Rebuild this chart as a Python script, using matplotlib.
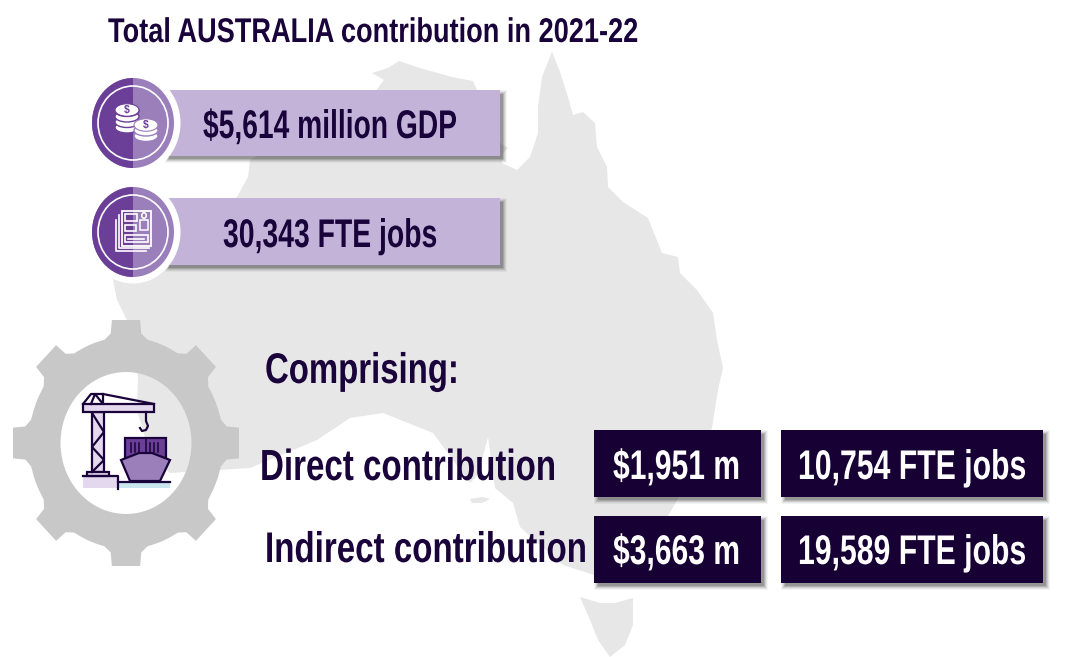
import numpy as np
import matplotlib
matplotlib.use("Agg")
import matplotlib.pyplot as plt
from matplotlib.patches import Rectangle, Ellipse, Polygon, PathPatch
from matplotlib.path import Path
from matplotlib.font_manager import FontProperties
from matplotlib.transforms import Affine2D
from matplotlib.patheffects import AbstractPathEffect

TITLE = "Total AUSTRALIA contribution in 2021-22"
TOTALS = ["$5,614 million GDP", "30,343 FTE jobs"]
HEADING = "Comprising:"
ROW_LABELS = ["Direct contribution", "Indirect contribution"]
GDP_PARTS = ["$1,951 m", "$3,663 m"]
JOB_PARTS = ["10,754 FTE jobs", "19,589 FTE jobs"]

DARK = "#19033A"
NAVY = "#170033"
LILAC = "#C3B3D9"
PURPLE = "#6B3F98"
PURPLE2 = "#9B7FBB"
MAP = "#E7E7E7"
GEAR = "#C8C8C8"

MAINLAND = [(552,52),(560,72),(568,97),(573,115),(583,112),(595,123),(597,147),(607,167),(608,187),
    (623,202),(648,218),(662,253),(678,257),(680,273),(697,290),(713,313),(717,340),(723,368),(718,390),
    (712,428),(700,460),(680,495),(640,565),(594,575),(563,565),(520,527),(513,503),(495,488),(488,437),
    (478,475),(470,483),(433,433),(383,413),(350,418),(317,440),(250,468),(217,470),(170,473),(150,455),
    (137,410),(138,377),(127,320),(117,300),(113,280),(130,255),(190,230),(237,197),(248,177),(250,160),
    (300,130),(340,100),(375,92),(384,80),(372,73),(388,68),(399,61),(420,68),(452,77),(473,81),(478,92),
    (496,140),(508,148),(503,153),(502,163),(517,170),(530,157),(538,133),(538,107),(542,77)]
TASMANIA = [(580,597),(600,603),(615,603),(633,598),(633,625),(625,645),(610,657),(598,640),(590,620)]
KANGAROO = [(470,499),(482,497),(490,499),(482,503),(472,503)]

fig = plt.figure(figsize=(10.79, 6.57), dpi=100, facecolor="white")
ax = fig.add_axes([0, 0, 1, 1])
ax.set_xlim(0, 1079); ax.set_ylim(657, 0); ax.axis("off")
renderer = fig.canvas.get_renderer()
FAMILY = "Liberation Sans"


class Stretch(AbstractPathEffect):
    """Draw glyph outlines taller about the text's baseline (display space)."""
    def __init__(self, ya, sy):
        super().__init__()
        self.ya, self.sy = ya, sy

    def draw_path(self, renderer, gc, tpath, affine, rgbFace=None):
        extra = Affine2D().translate(0, -self.ya).scale(1, self.sy).translate(0, self.ya)
        renderer.draw_path(gc, tpath, affine + extra, rgbFace)


def fit_text(s, x0, x1, base, color, cap):
    fp = FontProperties(family=FAMILY, weight="bold", size=30)
    t = ax.text(x0, base, s, fontproperties=fp, color=color, va="baseline", ha="left", zorder=10)
    size = 30 * (x1 - x0) / t.get_window_extent(renderer).width
    t.set_fontsize(size)
    cap_now = 0.70 * size * fig.dpi / 72
    ya = ax.transData.transform((x0, base))[1]
    t.set_path_effects([Stretch(ya, cap / cap_now)])
    return t


def shadowed_box(x0, y0, x1, y1, color, z=5):
    for grow, a in ((3.5, .05), (2.5, .08), (1.5, .12), (.5, .17), (-.5, .22)):
        ax.add_patch(Rectangle((x0 + 3 - grow, y0 + 3 - grow), x1 - x0 + 2 * grow, y1 - y0 + 2 * grow,
                               fc="#333333", ec="none", alpha=a, zorder=z))
    ax.add_patch(Rectangle((x0, y0), x1 - x0, y1 - y0, fc=color, ec="none", zorder=z + .1))


# map
ax.add_patch(Polygon(MAINLAND, closed=True, fc=MAP, ec="none", zorder=1))
ax.add_patch(Polygon(TASMANIA, closed=True, fc=MAP, ec="none", zorder=1))
ax.add_patch(Polygon(KANGAROO, closed=True, fc=MAP, ec="none", zorder=1))

# gear with a see-through hole
cx, cy, rx, ry = 126, 443, 113, 123
verts = []
for k in range(8):
    a0 = k * np.pi / 4
    for u, v in ((-.19, .84), (-.135, .89), (-.125, 1.0), (.125, 1.0), (.135, .89), (.19, .84)):
        verts.append((u * np.cos(a0) + v * np.sin(a0), -(-u * np.sin(a0) + v * np.cos(a0))))
    for b in (np.pi / 8 - .07, np.pi / 8, np.pi / 8 + .07):
        verts.append((.86 * np.sin(a0 + b), -.86 * np.cos(a0 + b)))
outer = np.array(verts) * [rx, ry] + [cx, cy]
th = np.linspace(0, 2 * np.pi, 90)
hole = np.c_[cx + 65.5 * np.cos(th), cy - 71 * np.sin(th)]
vs = np.r_[outer, outer[:1], hole]
codes = [Path.MOVETO] + [Path.LINETO] * (len(outer) - 1) + [Path.CLOSEPOLY] + \
        [Path.MOVETO] + [Path.LINETO] * (len(hole) - 2) + [Path.CLOSEPOLY]
ax.add_patch(PathPatch(Path(vs, codes), fc=GEAR, ec="none", zorder=2))

# crane and ship
LW = 1.6
ax.add_patch(Rectangle((118,482), 52, 6, fc="#C9E6EF", ec="none", zorder=3))
ax.add_patch(Rectangle((83,476), 35, 12, fc="#E3D8EE", ec="none", zorder=3))
ax.plot([83,118,118], [476,476,489], color=DARK, lw=LW, zorder=4)
ax.plot([118,170], [482,482], color=DARK, lw=LW, zorder=4)
ax.add_patch(Rectangle((92,412), 12, 60, fc="#E3D8EE", ec=DARK, lw=LW, zorder=3))
ax.plot([92,104,92,104,92], [413,432,447,460,472], color=DARK, lw=LW, zorder=4)
ax.add_patch(Rectangle((87,472), 22, 4, fc="#E3D8EE", ec=DARK, lw=LW, zorder=3))
ax.add_patch(Rectangle((83,404), 71, 8, fc="#E3D8EE", ec=DARK, lw=LW, zorder=4))
ax.plot([83,91,103,154], [404,394,394,404], color=DARK, lw=LW, zorder=4)
ax.plot([91,95,103,103], [404,394,404,394], color=DARK, lw=LW, zorder=4)
hook = np.array([(146,412),(146,421),(148,426),(146,430),(142,431),(140,428)])
ax.plot(hook[:,0], hook[:,1], color=DARK, lw=LW, zorder=4)
ax.add_patch(Rectangle((125,438), 41, 20, fc=PURPLE, ec=DARK, lw=LW, zorder=3))
for xv in (131,135,139,150,154,158):
    ax.plot([xv,xv], [443,452], color=DARK, lw=1.1, zorder=4)
ax.plot([145.5,145.5], [438,452], color=DARK, lw=1.1, zorder=4)
ax.add_patch(Polygon([(121,460),(139,453),(152,453),(170,460),(160,481),(130,481)], closed=True,
                     fc=PURPLE2, ec=DARK, lw=LW, zorder=4))

# total bars with badges
BAR_Y = [(90,156), (198,265)]
BADGE_Y = [123, 232]
for (y0, y1), yc in zip(BAR_Y, BADGE_Y):
    shadowed_box(165, y0, 500, y1, LILAC)
    bx = 133
    ax.add_patch(Ellipse((bx, yc), 95, 103, fc="white", ec="none", zorder=6))
    clip = Ellipse((bx, yc), 82, 90, fc=PURPLE2, ec="none", zorder=6.1)
    ax.add_patch(clip)
    left = Rectangle((bx - 42, yc - 46), 42, 92, fc=PURPLE, ec="none", zorder=6.2)
    ax.add_patch(left); left.set_clip_path(clip)
    ax.add_patch(Ellipse((bx, yc), 70, 74, fc="none", ec="white", lw=1.2, zorder=6.3))

# coins
for xc, ytop, ybot, edge in ((127,110,127.5,PURPLE), (146,125,136,PURPLE2)):
    z = 7.0
    for yy in np.arange(ybot, ytop, -5.5):
        ax.add_patch(Ellipse((xc, yy), 24, 11, fc="white", ec=edge, lw=1.0, zorder=z))
        z += .01
    ax.add_patch(Ellipse((xc, ytop), 24, 12.5, fc="white", ec=edge, lw=.8, zorder=z))
    ax.text(xc, ytop + .3, "$", color=PURPLE, fontsize=7.5, fontweight="bold", ha="center", va="center",
            family="Liberation Sans", zorder=7.3)

# document icon
ax.plot([116,116,146], [220,251,251], color="white", lw=1.2, zorder=7)
ax.plot([119,119,149], [215,248,248], color="white", lw=1.2, zorder=7)
ax.add_patch(Rectangle((122,211), 29, 35, fc=PURPLE2, ec="none", zorder=7))
ax.add_patch(Rectangle((122,211), 11, 35, fc=PURPLE, ec="none", zorder=7.05))
ax.add_patch(Rectangle((122,211), 29, 35, fc="none", ec="white", lw=1.3, zorder=7.1))
for r in ((125,214,12,7), (125,225,11,6), (125,235,23,7)):
    ax.add_patch(Rectangle(r[:2], r[2], r[3], fc="none", ec="white", lw=1.2, zorder=7.2))
ax.plot([128,144], [238.5,238.5], color="white", lw=1.2, zorder=7.2)
ax.add_patch(Ellipse((144,215.5), 4.5, 5.5, fc="none", ec="white", lw=1.1, zorder=7.2))
ax.add_patch(Rectangle((140,220), 8, 10, fc="none", ec="white", lw=1.1, zorder=7.2))

# dark value boxes
ROW_Y = [(430,497), (516,583)]
for (y0, y1) in ROW_Y:
    shadowed_box(594, y0, 761, y1, NAVY)
    shadowed_box(781, y0, 1043, y1, NAVY)

# text
fit_text(TITLE, 108, 638, 42, DARK, 24)
fit_text(TOTALS[0], 203, 457, 138, DARK, 28)
fit_text(TOTALS[1], 223, 437, 247, DARK, 28)
fit_text(HEADING, 265, 459, 383, DARK, 30)
fit_text(ROW_LABELS[0], 260, 556, 480, DARK, 30.5)
fit_text(ROW_LABELS[1], 265, 587, 562, DARK, 30)
for i, base in enumerate((479, 564)):
    fit_text(GDP_PARTS[i], 613, 740, base, "white", 29)
    fit_text(JOB_PARTS[i], 798, 1026, base, "white", 29)

fig.savefig("out.png", dpi=100)
